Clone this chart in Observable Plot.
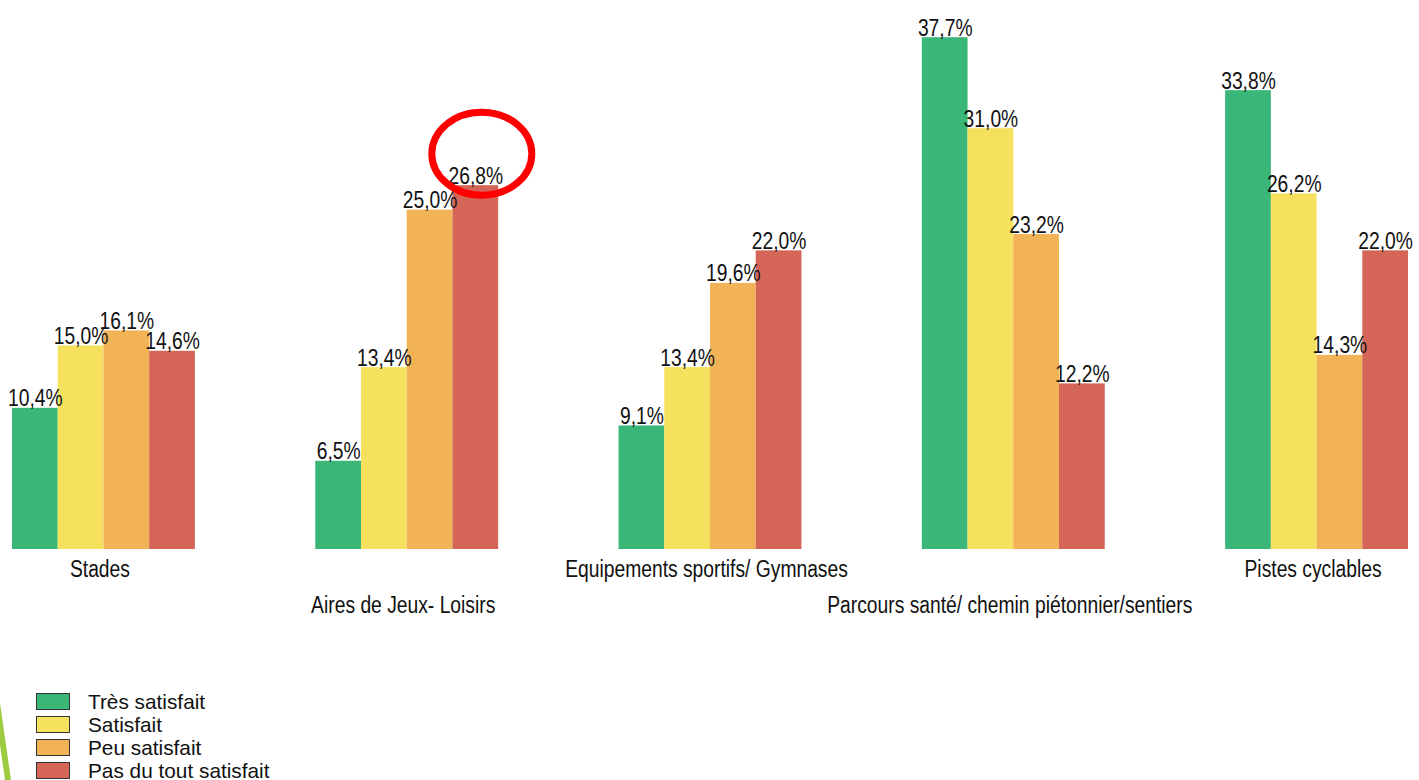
<!DOCTYPE html>
<html>
<head>
<meta charset="utf-8">
<script src="https://cdn.jsdelivr.net/npm/d3@7"></script>
<script src="https://cdn.jsdelivr.net/npm/@observablehq/plot@0.6"></script>
<style>
  html, body { margin: 0; padding: 0; background: #fff; }
  #wrap { position: relative; width: 1419px; height: 780px; overflow: hidden; }
  #chart svg { display: block; }
  #legend { position: absolute; left: 36px; top: 690px; font-family: "Liberation Sans", Arial, sans-serif; font-size: 20.8px; color: #111; }
  .row { height: 23px; display: flex; align-items: center; }
  .sw { width: 34px; height: 17px; box-sizing: border-box; border: 1.5px solid #333; margin-right: 18px; }
  #deco { position: absolute; left: 0; top: 700px; width: 14px; height: 80px; background: #9DCB3F;
          clip-path: polygon(0px 3px, 11px 80px, 5px 80px, 0px 45px); }
</style>
</head>
<body>
<div id="wrap">
  <div id="chart"></div>
  <div id="deco"></div>
  <div id="legend"></div>
</div>
<script>
const categories = ["Stades", "Aires de Jeux- Loisirs", "Equipements sportifs/ Gymnases", "Parcours santé/ chemin piétonnier/sentiers", "Pistes cyclables"];
const labelRow = [0, 1, 0, 1, 0];
const series = ["Très satisfait", "Satisfait", "Peu satisfait", "Pas du tout satisfait"];
const colors = ["#3AB778", "#F6E15E", "#F2B356", "#D46557"];
const tresSatisfait = [10.4, 6.5, 9.1, 37.7, 33.8];
const satisfait = [15.0, 13.4, 13.4, 31.0, 26.2];
const peuSatisfait = [16.1, 25.0, 19.6, 23.2, 14.3];
const pasDuTout = [14.6, 26.8, 22.0, 12.2, 22.0];
const highlight = [{category: "Aires de Jeux- Loisirs", series: "Pas du tout satisfait", value: 26.8}];

const seriesValues = [tresSatisfait, satisfait, peuSatisfait, pasDuTout];
const data = [];
categories.forEach((c, i) => {
  series.forEach((s, j) => data.push({category: c, series: s, value: seriesValues[j][i]}));
});
const fmt = v => v.toFixed(1).replace(".", ",") + "%";

const k = 0.5522847498;
const ellipse = {
  draw(ctx) {
    const rx = 50, ry = 41.5;
    ctx.moveTo(rx, 0);
    ctx.bezierCurveTo(rx, k * ry, k * rx, ry, 0, ry);
    ctx.bezierCurveTo(-k * rx, ry, -rx, k * ry, -rx, 0);
    ctx.bezierCurveTo(-rx, -k * ry, -k * rx, -ry, 0, -ry);
    ctx.bezierCurveTo(k * rx, -ry, rx, -k * ry, rx, 0);
    ctx.closePath();
  }
};

const font = "'Liberation Sans Narrow', 'Arial Narrow', 'Liberation Sans', sans-serif";

const chart = Plot.plot({
  width: 1419,
  height: 630,
  marginLeft: 12,
  marginRight: 11,
  marginTop: 6,
  marginBottom: 81,
  style: {fontFamily: font, background: "#fff"},
  fx: {domain: categories, paddingInner: 0.397, paddingOuter: 0, round: false, axis: null, label: null},
  x: {domain: series, padding: 0, round: false, axis: null},
  y: {domain: [0, 40], axis: null},
  color: {domain: series, range: colors},
  marks: [
    Plot.barY(data, {fx: "category", x: "series", y: "value", fill: "series"}),
    Plot.text(data, {fx: "category", x: "series", y: "value", text: d => fmt(d.value),
      lineAnchor: "bottom", dy: -2, fontSize: 23.5, fill: "#111"}),
    Plot.text(categories.filter((c, i) => labelRow[i] === 0), {fx: d => d, text: d => d,
      frameAnchor: "bottom", lineAnchor: "middle", dy: 20, dx: -4, fontSize: 23.5, fill: "#111"}),
    Plot.text(categories.filter((c, i) => labelRow[i] === 1), {fx: d => d, text: d => d,
      frameAnchor: "bottom", lineAnchor: "middle", dy: 56, dx: -4, fontSize: 23.5, fill: "#111"}),
    Plot.dot(highlight, {fx: "category", x: "series", y: "value", symbol: ellipse, r: 50,
      stroke: "#FF0000", strokeWidth: 7, fill: "none", dx: 6, dy: -32})
  ]
});
document.getElementById("chart").appendChild(chart);

// condense text to mimic a narrow typeface
chart.querySelectorAll("text").forEach(t => {
  const w = t.getComputedTextLength();
  if (w > 0) {
    t.setAttribute("textLength", (w * 0.82).toFixed(1));
    t.setAttribute("lengthAdjust", "spacingAndGlyphs");
  }
});

const legend = document.getElementById("legend");
series.forEach((s, i) => {
  const row = document.createElement("div");
  row.className = "row";
  const sw = document.createElement("div");
  sw.className = "sw";
  sw.style.background = colors[i];
  const t = document.createElement("span");
  t.textContent = s;
  row.appendChild(sw);
  row.appendChild(t);
  legend.appendChild(row);
});
</script>
</body>
</html>
